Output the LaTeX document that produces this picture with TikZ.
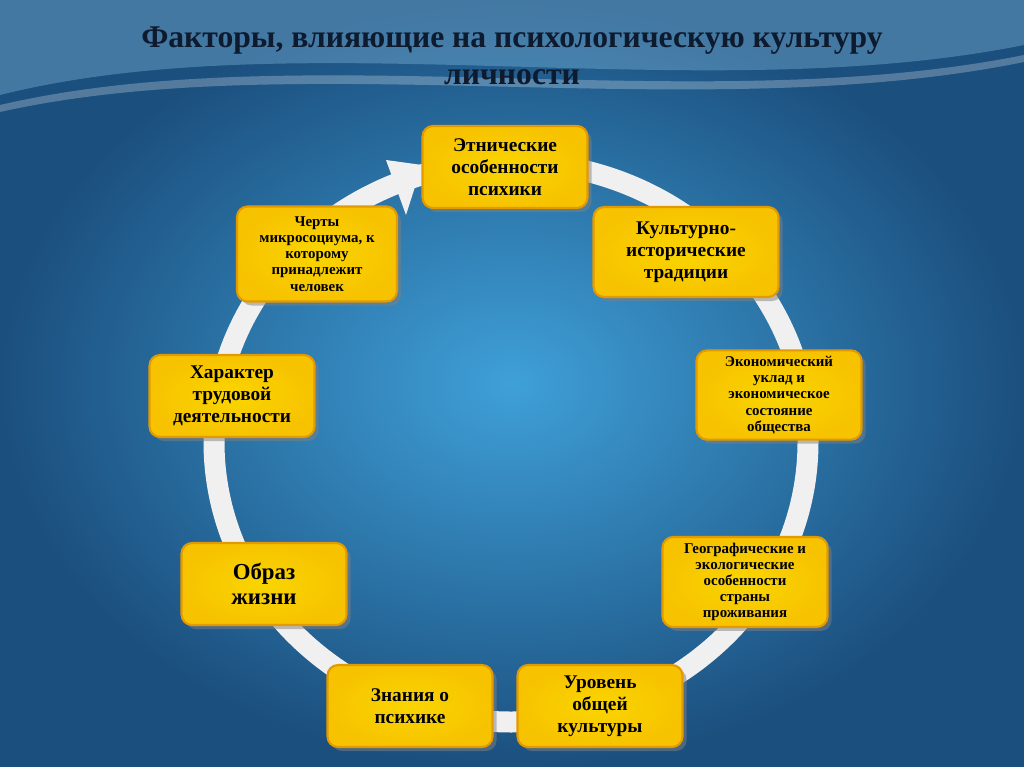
\documentclass[tikz,border=0pt]{standalone}
\usepackage{fontspec}
\setmainfont{Liberation Serif}
\usetikzlibrary{shadows,arrows.meta}
\definecolor{bgdark}{HTML}{1B4F7E}
\definecolor{bglight}{HTML}{3FA0D8}
\definecolor{boxfill}{HTML}{F7C300}
\definecolor{boxedge}{HTML}{E39A00}
\definecolor{titlecol}{HTML}{0E1A2E}
\begin{document}
\begin{tikzpicture}[x=0.02cm,y=-0.02cm,
    factor/.style={rectangle, rounded corners=6pt, draw=boxedge, line width=1.2pt,
      inner color=boxfill!70!yellow, outer color=boxfill, drop shadow={opacity=0.5},
      minimum width=3.3cm, minimum height=1.64cm, align=center,
      font=\bfseries\fontsize{11}{12.5}\selectfont},
    small/.style={font=\bfseries\fontsize{8.5}{9.2}\selectfont},
    ring/.style={draw=white!88!gray, line width=0.42cm}
    ]
  % background
  \path[inner color=bglight, outer color=bgdark] (0,0) rectangle (1024,767);
  \useasboundingbox (0,0) rectangle (1024,767);
  \fill[bglight!60!white, opacity=0.35] (0,0) -- (1024,0) -- (1024,45)
     .. controls (700,110) and (300,20) .. (0,95) -- cycle;
  \fill[white, opacity=0.25] (0,105) .. controls (300,35) and (700,120) .. (1024,55)
     -- (1024,62) .. controls (700,128) and (300,45) .. (0,112) -- cycle;
  \node (title) at (512,56) [align=center, text=titlecol,
     font=\bfseries\fontsize{18}{21}\selectfont]
     {Факторы, влияющие на психологическую культуру\\личности};

  % ring with arrow
  \draw[ring] (511,442) ellipse[x radius=297, y radius=280];
  \fill[white!88!gray] (386,160) -- (422,165) -- (406,215) -- cycle;

  % factors
  \node (ethno) at (505,167) [factor] {Этнические\\особенности\\психики};
  \node (tradit) at (686,252) [factor, minimum width=3.7cm, minimum height=1.8cm]
     {Культурно-\\исторические\\традиции};
  \node (econ) at (779,395) [factor, small] {Экономический\\уклад и\\экономическое\\состояние\\общества};
  \node (geo) at (745,582) [factor, small, minimum height=1.7cm]
     {Географические и\\экологические\\особенности\\страны\\проживания};
  \node (level) at (600,706) [factor] {Уровень\\общей\\культуры};
  \node (know) at (410,706) [factor] {Знания о\\психике};
  \node (life) at (264,584) [factor, font=\bfseries\fontsize{13}{14}\selectfont] {Образ\\жизни};
  \node (work) at (232,396) [factor] {Характер\\трудовой\\деятельности};
  \node (micro) at (317,254) [factor, small, minimum width=3.2cm, minimum height=1.9cm]
     {Черты\\микросоциума, к\\которому\\принадлежит\\человек};
\end{tikzpicture}
\end{document}
